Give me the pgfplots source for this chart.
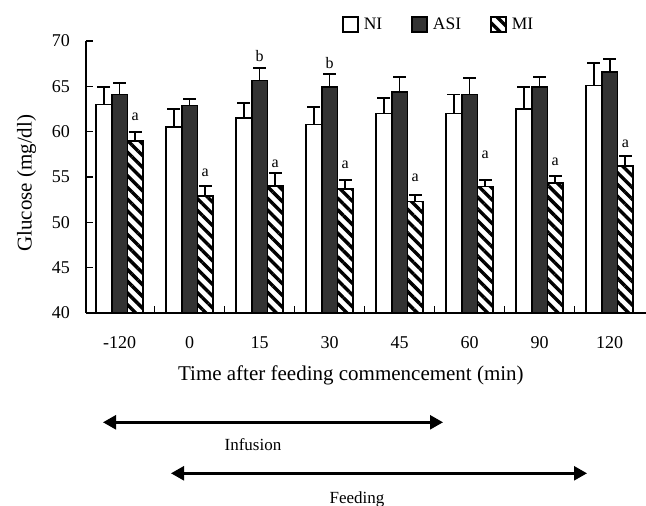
\documentclass[border=0pt]{standalone}
\usepackage{fontspec}
\setmainfont{Liberation Serif}
\usepackage{pgfplots}
\usepackage{pgfplotstable}
\pgfplotsset{compat=1.18}
\usetikzlibrary{patterns.meta,arrows.meta}

% group index, mean, upper error
\pgfplotstableread{
x y e
0 63.0 1.9
1 60.5 2.0
2 61.5 1.7
3 60.8 1.9
4 62.0 1.7
5 62.0 2.1
6 62.5 2.4
7 65.1 2.5
}\tabNI
\pgfplotstableread{
x y e
0 64.1 1.3
1 62.9 0.7
2 65.65 1.35
3 64.95 1.4
4 64.4 1.65
5 64.1 1.8
6 64.95 1.1
7 66.6 1.4
}\tabASI
\pgfplotstableread{
x y e
0 59.0 1.0
1 52.9 1.1
2 54.0 1.4
3 53.7 1.0
4 52.3 0.7
5 53.95 0.75
6 54.3 0.8
7 56.2 1.1
}\tabMI

\newcommand{\fs}[1]{\fontsize{#1}{#1}\selectfont}
\pgfplotsset{
    errup/.style={
        error bars/.cd, y dir=plus, y explicit,
        error mark=-,
        error mark options={rotate=90, black, line width=1.8bp, mark size=6.5bp},
        error bar style={black, line width=1.8bp}},
    boxlegend/.style={legend image code/.code={\draw[##1] (0bp,-7.5bp) rectangle (15bp,7.5bp);}},
}

\begin{document}
\begin{tikzpicture}
\useasboundingbox (0,0) rectangle (646bp,506bp);
\begin{axis}[
    at={(86bp,193bp)}, anchor=south west,
    scale only axis, width=560bp, height=272bp,
    ybar=0pt, bar width=15.7bp,
    xmin=-0.479, xmax=7.52,
    ymin=40, ymax=70,
    axis lines*=left,
    axis line style={-, line width=1.8bp},
    tick align=inside,
    ytick={40,45,...,70},
    major tick length=7bp, minor tick length=7bp,
    every tick/.style={black, line width=1.6bp},
    xtick={0,...,7},
    xticklabels={-120,0,15,30,45,60,90,120},
    major x tick style={draw=none},
    minor xtick={0.5,1.5,...,6.5},
    /pgf/number format/assume math mode=true,
    yticklabel style={font=\fs{18bp}, anchor=east, inner sep=0pt, xshift=-16bp},
    xticklabel style={font=\fs{18bp}, anchor=north, inner sep=0pt, yshift=-23.5bp},
    ylabel={Glucose (mg/dl)},
    ylabel style={font=\fs{21bp}, at={(axis description cs:-0.097,0.477)}, anchor=base},
    xlabel={Time after feeding commencement (min)},
    xlabel style={font=\fs{21bp}, at={(axis description cs:0.473,-0.25)}, anchor=base},
    legend columns=3,
    legend style={at={(axis description cs:0.457,1.06)}, anchor=west,
        draw=none, fill=none, inner sep=0pt, font=\fs{17.5bp},
        nodes={inner sep=2bp},
        /tikz/every odd column/.append style={column sep=3bp},
        /tikz/every even column/.append style={column sep=27bp}},
]
\addplot[draw=black, line width=1.7bp, fill=white, boxlegend, errup]
    table[x=x, y=y, y error=e] {\tabNI};
\addplot[draw=black, line width=1.7bp, fill={rgb,255:red,51;green,51;blue,51}, boxlegend, errup]
    table[x=x, y=y, y error=e] {\tabASI};
\addplot[draw=black, line width=1.7bp, fill=white,
    postaction={pattern={Lines[angle=-45, distance=8.3bp, line width=3.4bp]}},
    boxlegend, errup]
    table[x=x, y=y, y error=e] {\tabMI};
\legend{NI, ASI, MI}

% significance letters
\begin{scope}[every node/.style={font=\fs{16bp}, anchor=base, inner sep=0pt}]
\node[xshift=15.7bp] at (axis cs:0,61.2) {a};
\node[xshift=15.7bp] at (axis cs:1,55.0) {a};
\node at (axis cs:2,67.7) {b};
\node[xshift=15.7bp] at (axis cs:2,56.06) {a};
\node at (axis cs:3,66.98) {b};
\node[xshift=15.7bp] at (axis cs:3,55.95) {a};
\node[xshift=15.7bp] at (axis cs:4,54.48) {a};
\node[xshift=15.7bp] at (axis cs:5,57.06) {a};
\node[xshift=15.7bp] at (axis cs:6,56.32) {a};
\node[xshift=15.7bp] at (axis cs:7,58.27) {a};
\end{scope}
\end{axis}

% infusion / feeding periods
\draw[line width=2.5bp, {Triangle[length=13bp,width=14bp]}-{Triangle[length=13bp,width=14bp]}]
    (103bp,83.7bp) -- (443bp,83.7bp);
\node[font=\fs{17bp}, anchor=base] at (253bp,55bp) {Infusion};
\draw[line width=2.5bp, {Triangle[length=13bp,width=14bp]}-{Triangle[length=13bp,width=14bp]}]
    (171bp,32.7bp) -- (587bp,32.7bp);
\node[font=\fs{17bp}, anchor=base] at (357bp,3bp) {Feeding};
\end{tikzpicture}
\end{document}
